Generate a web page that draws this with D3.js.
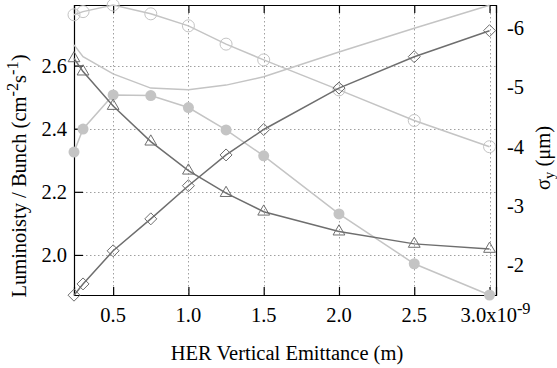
<!DOCTYPE html>
<html><head><meta charset="utf-8">
<script src="https://cdn.jsdelivr.net/npm/d3@7"></script>
<style>
body{margin:0;background:#fff;}
</style></head>
<body><svg id="c" width="557" height="368" font-family="Liberation Serif, Times New Roman, serif"></svg>
<script>
// ---- data ----
const emittance = [0.24, 0.3, 0.5, 0.75, 1.0, 1.25, 1.5, 2.0, 2.5, 3.0];
const lumiOpen   = [2.761, 2.771, 2.792, 2.764, 2.726, 2.668, 2.618, 2.523, 2.426, 2.343];
const lumiFilled = [2.326, 2.399, 2.507, 2.505, 2.467, 2.396, 2.314, 2.130, 1.972, 1.873];
const lumiTri    = [2.623, 2.581, 2.472, 2.359, 2.267, 2.196, 2.137, 2.074, 2.035, 2.019];
const sigmaDiamond = [-1.49, -1.68, -2.24, -2.78, -3.34, -3.86, -4.29, -4.99, -5.52, -5.96];
const sigmaLine    = [-5.72, -5.52, -5.23, -4.99, -4.96, -5.04, -5.18, -5.60, -6.00, -6.39];
const xTicks = [0.5, 1.0, 1.5, 2.0, 2.5, 3.0];
const xTickLabels = ["0.5", "1.0", "1.5", "2.0", "2.5", "3.0x10"];
const yLeftTicks = [2.0, 2.2, 2.4, 2.6];
const yRightTicks = [-6, -5, -4, -3, -2];

const svg = d3.select("#c");
const L = 74, R = 496, T = 5, B = 295;
const x = d3.scaleLinear().domain([0.24, 3.043]).range([L, R]);
const yL = d3.scaleLinear().domain([1.873, 2.792]).range([B, T]);
const yR = d3.scaleLinear().domain([-1.493, -6.394]).range([B, T]);

const fs = 20.5;
const light = "#c4c4c4", dark = "#6e6e6e";

// grid
const grid = svg.append("g").attr("stroke", "#a0a0a0").attr("stroke-width", 1).attr("stroke-dasharray", "1.5,2.5");
xTicks.forEach(t => grid.append("line").attr("x1", Math.round(x(t))+0.5).attr("x2", Math.round(x(t))+0.5).attr("y1", T).attr("y2", B));
yLeftTicks.forEach(t => grid.append("line").attr("x1", L).attr("x2", R).attr("y1", Math.round(yL(t))+0.5).attr("y2", Math.round(yL(t))+0.5));

// axes
const axB = d3.axisBottom(x).tickValues(xTicks).tickSize(-8).tickFormat("");
const axT = d3.axisTop(x).tickValues(xTicks).tickSize(-8).tickFormat("");
const axL = d3.axisLeft(yL).tickValues(yLeftTicks).tickSize(-9).tickFormat("");
const axR = d3.axisRight(yR).tickValues(yRightTicks).tickSize(0).tickFormat("");
[ [axB, `translate(0,${B})`], [axT, `translate(0,${T})`], [axL, `translate(${L},0)`], [axR, `translate(${R},0)`] ].forEach(([a, tr]) => {
  const g = svg.append("g").attr("transform", tr).call(a);
  g.attr("font-family", null).attr("font-size", null);
  g.selectAll("path,line").attr("stroke", "#000").attr("stroke-width", 1.2);
});

// tick labels
const xl = svg.append("g").attr("font-size", fs).attr("text-anchor", "middle").attr("fill", "#000");
xTicks.forEach((t, i) => {
  const tx = xl.append("text").attr("x", x(t)).attr("y", 322);
  tx.append("tspan").text(xTickLabels[i]);
  if (i === xTicks.length - 1) {
    tx.attr("x", x(t) + 6);
    tx.append("tspan").attr("dy", -8).attr("font-size", fs * 0.8).text("-9");
  }
});
const yl = svg.append("g").attr("font-size", fs).attr("fill", "#000");
yLeftTicks.forEach(t => yl.append("text").attr("x", 67).attr("y", yL(t)).attr("dy", "0.34em").attr("text-anchor", "end").text(d3.format(".1f")(t)));
yRightTicks.forEach(t => yl.append("text").attr("x", 507).attr("y", yR(t)).attr("dy", "0.34em").attr("text-anchor", "start").text(String(t)));

// axis titles
svg.append("text").attr("x", 287).attr("y", 360).attr("text-anchor", "middle").attr("font-size", fs).text("HER Vertical Emittance (m)");
const lt = svg.append("text").attr("transform", "translate(26,176) rotate(-90)").attr("text-anchor", "middle").attr("font-size", fs);
lt.append("tspan").text("Luminoisty / Bunch (cm");
lt.append("tspan").attr("dy", -8).attr("font-size", fs * 0.8).text("-2");
lt.append("tspan").attr("dy", 8).text("s");
lt.append("tspan").attr("dy", -8).attr("font-size", fs * 0.8).text("-1");
lt.append("tspan").attr("dy", 8).text(")");
const rt = svg.append("text").attr("transform", "translate(550,158) rotate(-90)").attr("text-anchor", "middle").attr("font-size", fs);
rt.append("tspan").text("σ");
rt.append("tspan").attr("dy", 4).attr("font-size", fs * 0.7).text("y");
rt.append("tspan").attr("dy", -4).text(" (μm)");

// series
function series(vals, scale, color, marker) {
  const pts = emittance.map((e, i) => [x(e), scale(vals[i])]);
  svg.append("path").attr("d", d3.line()(pts)).attr("fill", "none").attr("stroke", color).attr("stroke-width", 1.5);
  const g = svg.append("g");
  pts.forEach(p => {
    if (marker === "openCircle") g.append("circle").attr("cx", p[0]).attr("cy", p[1]).attr("r", 6).attr("fill", "none").attr("stroke", color).attr("stroke-width", 1);
    else if (marker === "filledCircle") g.append("circle").attr("cx", p[0]).attr("cy", p[1]).attr("r", 5.5).attr("fill", color);
    else if (marker === "triangle") g.append("path").attr("d", d3.symbol().type(d3.symbolTriangle).size(60)()).attr("transform", `translate(${p[0]},${p[1]})`).attr("fill", "none").attr("stroke", color).attr("stroke-width", 1);
    else if (marker === "diamond") g.append("path").attr("d", "M0,-6L6,0L0,6L-6,0Z").attr("transform", `translate(${p[0]},${p[1]})`).attr("fill", "none").attr("stroke", color).attr("stroke-width", 1);
  });
}
series(sigmaLine, yR, light, null);
series(lumiOpen, yL, light, "openCircle");
series(lumiFilled, yL, light, "filledCircle");
series(lumiTri, yL, dark, "triangle");
series(sigmaDiamond, yR, dark, "diamond");
</script></body></html>
